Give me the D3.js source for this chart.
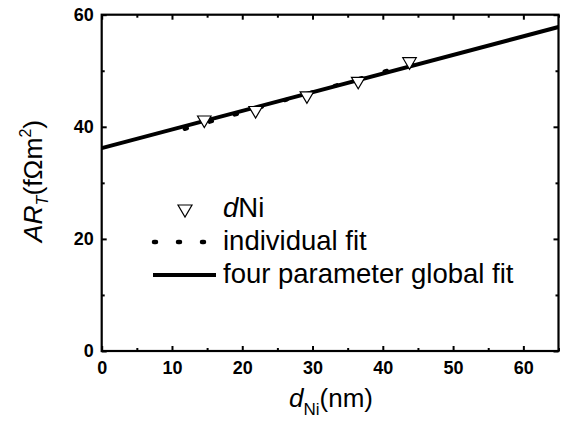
<!DOCTYPE html>
<html>
<head>
<meta charset="utf-8">
<script src="https://cdn.jsdelivr.net/npm/d3@7/dist/d3.min.js"></script>
<style>
  html, body { margin: 0; padding: 0; background: #fff; }
  svg { display: block; }
  text { font-family: "Liberation Sans", Arial, sans-serif; fill: #000; }
</style>
</head>
<body>
<svg id="chart" width="564" height="428"></svg>
<script>
// ---- data ----
const dNi = [14.6, 21.9, 29.2, 36.5, 43.8];
const ART = [40.9, 42.6, 45.2, 47.8, 51.3];
const individualFitX = [11.8, 45.3];
const individualFitY = [39.6, 51.7];
const globalFitX = [0, 65];
const globalFitY = [36.2, 57.8];
const xTicks = [0, 10, 20, 30, 40, 50, 60];
const yTicks = [0, 20, 40, 60];
const xMinor = [5, 15, 25, 35, 45, 55, 65];
const yMinor = [10, 30, 50];
const legendLabels = ["dNi", "individual fit", "four parameter global fit"];

(function () {
// ---- layout ----
const svg = d3.select("#chart");
const L = 101.7, R = 558.5, T = 14.7, B = 351;
const x = d3.scaleLinear().domain([0, 65]).range([L, R]);
const y = d3.scaleLinear().domain([0, 60]).range([B, T]);

const plot = svg.append("g");

svg.append("defs").append("clipPath").attr("id", "clip")
  .append("rect").attr("x", L).attr("y", T).attr("width", R - L).attr("height", B - T);

// global fit line
const line = d3.line().x(d => x(d[0])).y(d => y(d[1]));
plot.append("path")
  .datum(globalFitX.map((v, i) => [v, globalFitY[i]]))
  .attr("d", line)
  .attr("clip-path", "url(#clip)")
  .attr("fill", "none").attr("stroke", "#000").attr("stroke-width", 4);

// individual fit (dotted)
plot.append("path")
  .datum(individualFitX.map((v, i) => [v, individualFitY[i]]))
  .attr("d", line)
  .attr("fill", "none").attr("stroke", "#000").attr("stroke-width", 4)
  .attr("stroke-linecap", "round").attr("stroke-dasharray", "2.5,23.5");

// triangles
const tri = (w, h) => `M${-w/2},${-h/2}L${w/2},${-h/2}L0,${h/2}Z`;
plot.selectAll("path.pt").data(dNi).enter().append("path")
  .attr("class", "pt")
  .attr("d", tri(13.5, 11.5))
  .attr("transform", (d, i) => `translate(${x(d)},${y(ART[i])})`)
  .attr("fill", "#fff").attr("stroke", "#000").attr("stroke-width", 1.2);

// axes: frame + ticks
const axG = svg.append("g");
const axBottom = d3.axisBottom(x).tickValues(xTicks).tickSize(-5).tickPadding(10).tickFormat(d3.format("d"));
const axTop = d3.axisTop(x).tickValues(xTicks).tickSize(-5).tickFormat("");
const axLeft = d3.axisLeft(y).tickValues(yTicks).tickSize(-5).tickPadding(8).tickFormat(d3.format("d"));
const axRight = d3.axisRight(y).tickValues(yTicks).tickSize(-5).tickFormat("");
const bottomMinor = d3.axisBottom(x).tickValues(xMinor).tickSize(-3).tickFormat("");
const topMinor = d3.axisTop(x).tickValues(xMinor).tickSize(-3).tickFormat("");
const leftMinor = d3.axisLeft(y).tickValues(yMinor).tickSize(-3).tickFormat("");
const rightMinor = d3.axisRight(y).tickValues(yMinor).tickSize(-3).tickFormat("");

function addAxis(ax, tr) {
  const g = axG.append("g").attr("transform", tr).call(ax);
  g.select(".domain").remove();
  g.selectAll("line").attr("stroke", "#000").attr("stroke-width", 2);
  g.selectAll("text").attr("font-size", 18).attr("font-weight", "bold")
    .attr("font-family", "'Liberation Sans', Arial, sans-serif").attr("fill", "#000");
  return g;
}
addAxis(axBottom, `translate(0,${B})`);
addAxis(axTop, `translate(0,${T})`);
addAxis(axLeft, `translate(${L},0)`);
addAxis(axRight, `translate(${R},0)`);
addAxis(bottomMinor, `translate(0,${B})`);
addAxis(topMinor, `translate(0,${T})`);
addAxis(leftMinor, `translate(${L},0)`);
addAxis(rightMinor, `translate(${R},0)`);

axG.append("rect").attr("x", L).attr("y", T).attr("width", R - L).attr("height", B - T)
  .attr("fill", "none").attr("stroke", "#000").attr("stroke-width", 2.2);

// axis titles
const xt = svg.append("text").attr("x", 331).attr("y", 406.5).attr("text-anchor", "middle").attr("font-size", 26);
xt.append("tspan").attr("font-style", "italic").text("d");
xt.append("tspan").attr("font-size", 17).attr("dy", 8).text("Ni");
xt.append("tspan").attr("dy", -8).text("(nm)");

const yt = svg.append("text").attr("transform", "translate(41.5,181) rotate(-90)")
  .attr("text-anchor", "middle").attr("font-size", 26.5);
yt.append("tspan").attr("font-style", "italic").text("AR");
yt.append("tspan").attr("font-style", "italic").attr("font-size", 16).attr("dy", 6).text("T");
yt.append("tspan").attr("dy", -6).text("(fΩm");
yt.append("tspan").attr("font-size", 16).attr("dy", -11).text("2");
yt.append("tspan").attr("dy", 11).text(")");

// legend
const lg = svg.append("g");
lg.append("path").attr("d", tri(14, 12)).attr("transform", "translate(185,211)")
  .attr("fill", "#fff").attr("stroke", "#000").attr("stroke-width", 1.2);
lg.append("line").attr("x1", 154).attr("x2", 206).attr("y1", 242).attr("y2", 242)
  .attr("stroke", "#000").attr("stroke-width", 4.5).attr("stroke-linecap", "round")
  .attr("stroke-dasharray", "2,22");
lg.append("line").attr("x1", 153).attr("x2", 216).attr("y1", 275).attr("y2", 275)
  .attr("stroke", "#000").attr("stroke-width", 4);

const fs = 27.5;
const t0 = lg.append("text").attr("x", 223).attr("y", 216.5).attr("font-size", fs);
t0.append("tspan").attr("font-style", "italic").text(legendLabels[0].slice(0, 1));
t0.append("tspan").text(legendLabels[0].slice(1));
lg.append("text").attr("x", 223).attr("y", 250).attr("font-size", fs).text(legendLabels[1]);
lg.append("text").attr("x", 223).attr("y", 283).attr("font-size", fs).text(legendLabels[2]);
})();
</script>
</body>
</html>
